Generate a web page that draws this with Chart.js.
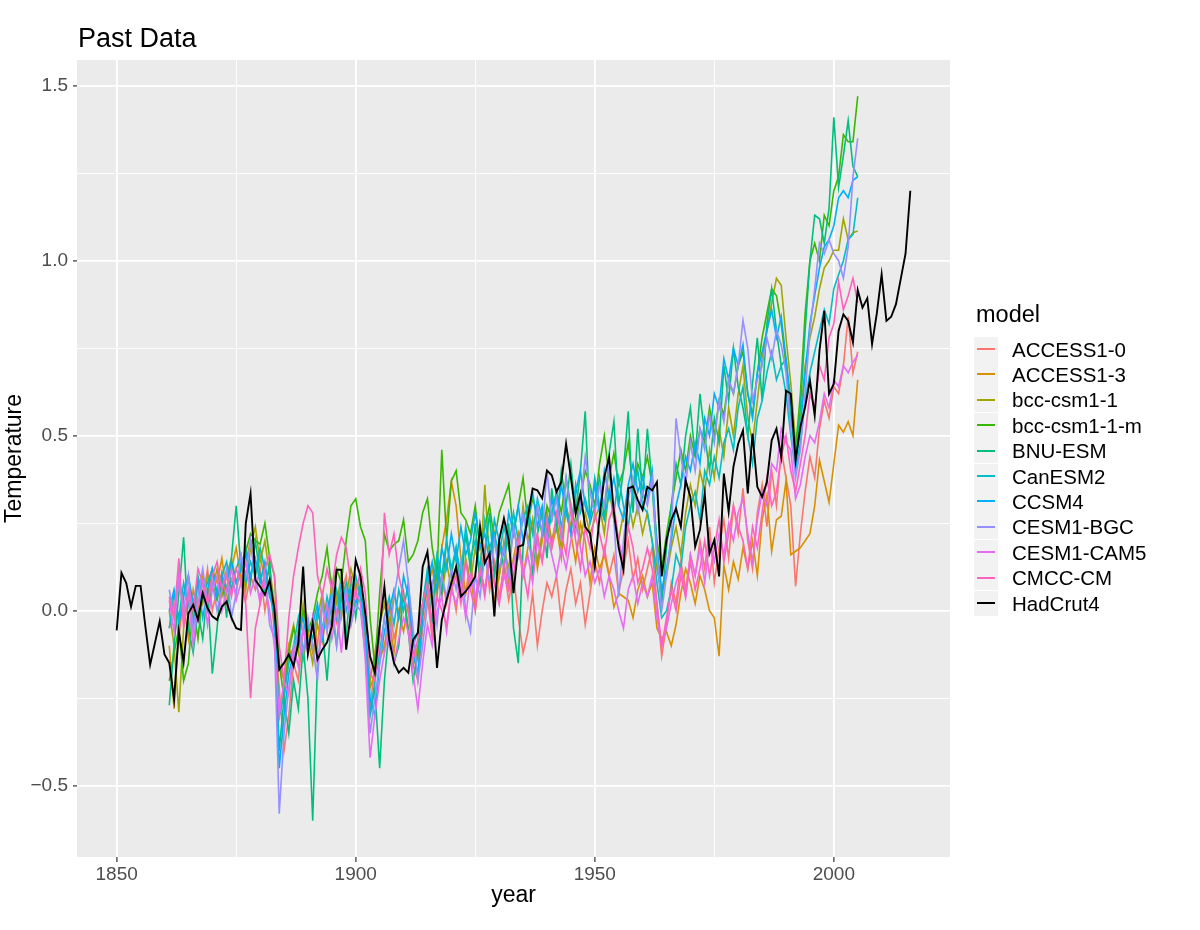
<!DOCTYPE html>
<html>
<head>
<meta charset="utf-8">
<title>Past Data</title>
<script src="https://cdn.jsdelivr.net/npm/chart.js@4.4.1/dist/chart.umd.min.js"></script>
<style>
  html, body { margin: 0; padding: 0; background: #ffffff; }
  #wrap { position: relative; width: 1200px; height: 930px; font-family: "Liberation Sans", Arial, sans-serif; }
  #chart { position: absolute; left: 0; top: 0; }
  #title { position: absolute; left: 78px; top: 25px; font-size: 27px; line-height: 27px; color: #000; white-space: nowrap; }
  #legendTitle { position: absolute; left: 976px; top: 303px; font-size: 23.5px; line-height: 23.5px; color: #000; }
  .key { position: absolute; left: 974px; width: 24px; height: 25px; background: #F2F2F2; }
  .key span { position: absolute; left: 3px; width: 18px; top: 11.5px; height: 2px; }
  .lab { position: absolute; left: 1012px; font-size: 20.5px; line-height: 20px; color: #000; white-space: nowrap; }
</style>
</head>
<body>
<div id="wrap">
  <canvas id="chart" width="1200" height="930"></canvas>
  <div id="title">Past Data</div>
  <div id="legendTitle">model</div>
  <div id="legend"></div>
</div>
<script>
// series names and colours (ggplot hue palette + black for observations)
const modelNames = ["ACCESS1-0", "ACCESS1-3", "bcc-csm1-1", "bcc-csm1-1-m", "BNU-ESM",
                    "CanESM2", "CCSM4", "CESM1-BGC", "CESM1-CAM5", "CMCC-CM"];
const modelColors = ["#F8766D", "#D89000", "#A3A500", "#39B600", "#00BF7D",
                     "#00BFC4", "#00B0F6", "#9590FF", "#E76BF3", "#FF62BC"];
const obsName = "HadCrut4";
const obsColor = "#000000";

// model runs cover 1861-2005, observations 1850-2016
const modelFirstYear = 1861;
const obsFirstYear = 1850;

const access10 = [
  -0.05, 0.02, -0.08, 0.05, 0.10, -0.02, 0.08, 0.03, 0.12, 0.00,
  0.06, 0.11, 0.02, 0.09, 0.05, 0.14, 0.03, 0.10, 0.06, 0.12,
  0.00, 0.08, -0.06, -0.22, -0.40, -0.30, -0.15, -0.20, -0.05, -0.12,
  -0.02, -0.10, 0.04, -0.06, 0.08, -0.03, 0.05, 0.10, -0.04, 0.03,
  0.06, -0.10, -0.28, -0.15, -0.05, -0.12, 0.02, -0.08, -0.02, 0.05,
  -0.06, -0.15, -0.20, -0.05, 0.04, -0.08, 0.06, 0.10, 0.02, 0.08,
  0.00, 0.12, 0.05, 0.15, 0.02, 0.10, 0.18, 0.06, 0.14, 0.04,
  0.12, 0.03, 0.10, -0.02, -0.12, -0.06, 0.05, -0.10, 0.00, 0.08,
  0.04, 0.10, -0.03, 0.06, 0.12, 0.02, 0.08, -0.04, 0.05, 0.14,
  0.08, 0.18, 0.10, 0.16, 0.05, 0.12, 0.20, 0.09, 0.15, 0.06,
  0.12, 0.18, 0.02, -0.13, -0.04, 0.08, 0.02, 0.14, 0.06, 0.16,
  0.10, 0.20, 0.12, 0.24, 0.08, 0.18, 0.26, 0.15, 0.30, 0.22,
  0.35, 0.20, 0.12, 0.28, 0.36, 0.24, 0.40, 0.30, 0.46, 0.38,
  0.30, 0.07, 0.22, 0.34, 0.44, 0.38, 0.52, 0.60, 0.55, 0.64,
  0.62, 0.70, 0.84, 0.68, 0.74
];
const access13 = [
  -0.10, -0.28, -0.05, 0.02, -0.08, 0.06, 0.00, 0.10, 0.04, 0.12,
  0.08, 0.15, 0.05, 0.12, 0.18, 0.09, 0.14, 0.20, 0.10, 0.16,
  0.08, 0.12, 0.02, -0.15, -0.20, -0.10, -0.16, -0.08, -0.14, -0.06,
  -0.12, -0.04, -0.09, 0.00, -0.05, 0.04, -0.02, 0.06, 0.02, 0.08,
  0.04, -0.05, -0.22, -0.18, -0.14, -0.10, -0.02, -0.12, 0.00, -0.06,
  0.02, -0.08, -0.14, 0.00, 0.06, 0.12, 0.04, 0.18, 0.26, 0.37,
  0.30, 0.15, 0.05, 0.10, 0.00, 0.12, 0.06, 0.16, 0.02, 0.10,
  0.20, 0.08, 0.15, 0.22, 0.10, 0.18, 0.26, 0.12, 0.20, 0.28,
  0.18, 0.24, 0.15, 0.30, 0.22, 0.14, 0.25, 0.20, 0.08, 0.18,
  0.12, 0.16, 0.10, 0.01, 0.05, 0.04, 0.03, -0.02, 0.06, 0.10,
  0.04, 0.08, -0.05, -0.08, -0.06, -0.10, -0.04, 0.05, 0.12, 0.08,
  0.02, 0.10, 0.06, 0.00, -0.02, -0.13, 0.13, 0.06, 0.14, 0.09,
  0.18, 0.12, 0.20, 0.10, 0.26, 0.33, 0.17, 0.26, 0.27, 0.37,
  0.16, 0.17, 0.18, 0.20, 0.22, 0.30, 0.43, 0.37, 0.31, 0.42,
  0.53, 0.51, 0.54, 0.50, 0.66
];
const bccCsm11 = [
  0.00, -0.10, -0.29, -0.05, 0.04, -0.02, 0.08, 0.02, 0.10, 0.06,
  0.12, 0.04, 0.10, 0.15, 0.08, 0.13, 0.06, 0.18, 0.24, 0.14,
  0.20, 0.10, 0.00, -0.30, -0.22, -0.10, -0.04, -0.12, 0.02, -0.08,
  -0.15, -0.02, 0.05, -0.04, 0.08, 0.02, 0.10, 0.04, 0.12, 0.06,
  0.10, -0.02, -0.20, -0.12, -0.04, 0.02, -0.06, 0.05, -0.02, 0.04,
  -0.05, -0.16, -0.10, 0.00, 0.08, 0.02, 0.10, 0.04, 0.14, 0.06,
  0.12, 0.04, 0.15, 0.08, 0.18, 0.10, 0.36, 0.14, 0.22, 0.10,
  0.18, 0.12, 0.24, 0.16, 0.30, 0.20, 0.26, 0.14, 0.22, 0.28,
  0.20, 0.26, 0.18, 0.30, 0.24, 0.32, 0.20, 0.28, 0.22, 0.26,
  0.30, 0.22, 0.35, 0.26, 0.20, 0.28, 0.32, 0.24, 0.30, 0.22,
  0.28, 0.20, 0.12, 0.05, 0.10, 0.18, 0.24, 0.16, 0.28, 0.36,
  0.30, 0.40, 0.34, 0.46, 0.38, 0.52, 0.44, 0.58, 0.50, 0.62,
  0.70, 0.55, 0.48, 0.60, 0.72, 0.80, 0.88, 0.95, 0.93, 0.78,
  0.65, 0.48, 0.55, 0.70, 0.78, 0.84, 0.92, 0.98, 1.00, 1.03,
  1.03, 1.12, 1.06, 1.08, 1.085
];
const bccCsm11m = [
  -0.20, -0.12, -0.05, -0.20, -0.15, 0.02, -0.08, 0.05, 0.00, 0.08,
  0.03, 0.10, 0.06, 0.14, 0.08, 0.12, 0.17, 0.22, 0.20, 0.19,
  0.25, 0.15, 0.10, -0.15, -0.25, -0.12, -0.05, -0.10, 0.00, -0.06,
  -0.02, 0.05, 0.10, 0.18, 0.06, 0.12, 0.08, 0.20, 0.30, 0.32,
  0.24, 0.20, -0.02, -0.16, 0.05, 0.22, 0.17, 0.19, 0.20, 0.26,
  0.14, 0.16, 0.20, 0.28, 0.32, 0.18, 0.10, 0.46, 0.20, 0.37,
  0.40, 0.28, 0.26, 0.22, 0.30, 0.18, 0.24, 0.30, 0.20, 0.28,
  0.32, 0.36, 0.22, 0.30, 0.38, 0.25, 0.32, 0.28, 0.22, 0.30,
  0.26, 0.34, 0.28, 0.38, 0.30, 0.24, 0.32, 0.40, 0.36, 0.30,
  0.42, 0.50, 0.38, 0.45, 0.36, 0.40, 0.48, 0.35, 0.42, 0.38,
  0.44, 0.36, 0.20, 0.12, 0.22, 0.30, 0.38, 0.46, 0.40, 0.50,
  0.44, 0.52, 0.48, 0.58, 0.50, 0.60, 0.56, 0.66, 0.62, 0.70,
  0.74, 0.62, 0.56, 0.68, 0.78, 0.85, 0.92, 0.90, 0.82, 0.70,
  0.60, 0.46, 0.62, 0.85, 1.00, 1.05, 1.00, 1.13, 1.10, 1.20,
  1.24, 1.36, 1.34, 1.34, 1.47
];
const bnuEsm = [
  -0.27, -0.10, 0.05, 0.21, -0.05, -0.12, 0.00, -0.08, 0.06, -0.18,
  -0.05, 0.10, -0.02, 0.15, 0.30, 0.12, 0.18, 0.08, 0.20, 0.10,
  0.05, 0.14, -0.05, -0.40, -0.25, -0.35, -0.20, -0.28, -0.10, -0.25,
  -0.60, -0.15, -0.05, -0.20, 0.00, -0.10, 0.05, -0.08, 0.10, -0.02,
  0.08, -0.05, -0.30, -0.22, -0.45, -0.20, -0.05, -0.15, -0.10, 0.05,
  -0.06, -0.20, -0.12, 0.02, 0.10, -0.05, 0.15, 0.05, 0.20, 0.10,
  0.18, 0.06, 0.22, 0.12, 0.25, 0.08, 0.16, 0.28, 0.10, 0.20,
  0.12, 0.25, -0.05, -0.15, 0.18, 0.30, 0.10, 0.22, 0.28, 0.15,
  0.35, 0.24, 0.40, 0.30, 0.42, 0.28, 0.40, 0.57, 0.25, 0.30,
  0.38, 0.26, 0.45, 0.54, 0.30, 0.40, 0.57, 0.28, 0.52, 0.32,
  0.52, 0.36, 0.15, 0.02, 0.18, 0.30, 0.42, 0.36, 0.50, 0.58,
  0.44, 0.62, 0.50, 0.40, 0.55, 0.48, 0.70, 0.60, 0.75, 0.64,
  0.58, 0.50, 0.65, 0.78, 0.60, 0.82, 0.92, 0.80, 0.70, 0.72,
  0.56, 0.42, 0.58, 0.80, 1.00, 1.13, 1.12, 1.05, 1.15, 1.41,
  1.21, 1.30, 1.40, 1.27, 1.24
];
const canEsm2 = [
  -0.05, 0.05, -0.02, 0.08, 0.02, -0.04, 0.10, 0.04, 0.08, 0.12,
  0.05, 0.10, 0.14, 0.06, 0.12, 0.16, 0.08, 0.14, 0.10, 0.18,
  0.12, 0.06, -0.02, -0.30, -0.24, -0.15, -0.10, -0.02, -0.12, -0.04,
  -0.08, 0.00, -0.06, 0.04, -0.02, 0.06, 0.00, 0.08, 0.03, 0.10,
  0.04, -0.06, -0.30, -0.20, -0.12, -0.02, 0.04, -0.04, 0.06, 0.00,
  0.08, -0.10, -0.06, 0.02, 0.12, 0.06, 0.16, 0.10, 0.20, 0.12,
  0.18, 0.10, 0.24, 0.15, 0.20, 0.12, 0.26, 0.18, 0.22, 0.16,
  0.24, 0.18, 0.28, 0.20, 0.26, 0.30, 0.22, 0.32, 0.26, 0.20,
  0.28, 0.34, 0.24, 0.30, 0.22, 0.36, 0.28, 0.32, 0.26, 0.38,
  0.30, 0.26, 0.34, 0.28, 0.38, 0.30, 0.24, 0.34, 0.40, 0.30,
  0.28, 0.20, 0.08, -0.02, 0.00, 0.06, 0.16, 0.12, 0.24, 0.30,
  0.34, 0.26, 0.40, 0.36, 0.44, 0.38, 0.48, 0.52, 0.46, 0.58,
  0.64, 0.50, 0.42, 0.55, 0.60, 0.68, 0.74, 0.66, 0.70, 0.62,
  0.50, 0.40, 0.48, 0.60, 0.68, 0.74, 0.80, 0.86, 0.82, 0.92,
  0.96, 1.00, 1.06, 1.075, 1.18
];
const ccsm4 = [
  0.00, 0.06, -0.04, 0.04, 0.10, 0.02, 0.08, -0.02, 0.06, 0.12,
  0.04, 0.10, 0.06, 0.14, 0.08, 0.12, 0.16, 0.10, 0.15, 0.08,
  0.14, 0.04, 0.00, -0.45, -0.30, -0.18, -0.12, -0.06, -0.02, -0.10,
  -0.04, 0.02, -0.08, 0.00, 0.05, -0.02, 0.08, 0.00, 0.06, 0.02,
  0.06, -0.04, -0.25, -0.30, -0.15, -0.06, 0.00, 0.06, -0.02, 0.10,
  0.04, -0.12, -0.18, -0.02, 0.08, 0.14, 0.06, 0.18, 0.12, 0.22,
  0.14, 0.24, 0.16, 0.20, 0.28, 0.18, 0.22, 0.14, 0.26, 0.20,
  0.16, 0.28, 0.22, 0.30, 0.20, 0.26, 0.34, 0.24, 0.30, 0.22,
  0.32, 0.26, 0.36, 0.28, 0.22, 0.34, 0.40, 0.30, 0.26, 0.36,
  0.28, 0.40, 0.32, 0.38, 0.30, 0.26, 0.36, 0.42, 0.34, 0.38,
  0.32, 0.40, 0.18, 0.06, 0.12, 0.20, 0.30, 0.36, 0.44, 0.40,
  0.48, 0.42, 0.55, 0.50, 0.62, 0.58, 0.72, 0.66, 0.75, 0.70,
  0.76, 0.62, 0.55, 0.68, 0.74, 0.80, 0.86, 0.78, 0.84, 0.72,
  0.60, 0.42, 0.52, 0.68, 0.82, 0.90, 0.98, 1.04, 1.06, 1.10,
  1.18, 1.20, 1.18, 1.23, 1.24
];
const cesm1Bgc = [
  0.06, -0.02, 0.08, 0.00, 0.10, -0.06, 0.04, 0.12, 0.02, 0.08,
  0.00, 0.06, 0.12, -0.02, 0.05, 0.16, 0.10, 0.20, 0.08, 0.04,
  0.10, -0.04, -0.08, -0.58, -0.35, -0.22, -0.14, -0.05, -0.12, -0.02,
  -0.10, -0.20, 0.02, -0.06, 0.04, -0.10, 0.00, 0.06, -0.04, 0.02,
  0.00, -0.12, -0.35, -0.25, -0.15, -0.02, -0.10, 0.04, 0.12, 0.20,
  0.08, -0.05, -0.20, -0.10, 0.02, 0.08, -0.04, 0.10, 0.04, 0.12,
  0.06, 0.14, 0.00, -0.06, 0.10, 0.04, 0.16, 0.08, 0.20, 0.12,
  0.18, 0.10, 0.24, 0.16, 0.28, 0.20, 0.14, 0.30, 0.22, 0.40,
  0.26, 0.32, 0.20, 0.38, 0.28, 0.22, 0.30, 0.44, 0.34, 0.28,
  0.36, 0.30, 0.42, 0.26, 0.04, 0.20, 0.32, 0.38, 0.28, 0.34,
  0.30, 0.38, 0.16, 0.00, 0.10, 0.22, 0.55, 0.44, 0.36, 0.48,
  0.40, 0.52, 0.46, 0.56, 0.48, 0.60, 0.54, 0.66, 0.62, 0.70,
  0.83, 0.75, 0.60, 0.66, 0.70, 0.78, 0.72, 0.80, 0.76, 0.68,
  0.52, 0.38, 0.46, 0.62, 0.80, 0.92, 1.05, 1.02, 1.06, 1.02,
  1.00, 0.95, 1.04, 1.24, 1.35
];
const cesm1Cam5 = [
  0.03, -0.06, 0.12, -0.02, 0.05, -0.10, 0.02, 0.08, -0.04, 0.06,
  0.10, 0.00, 0.06, 0.12, 0.03, 0.08, 0.14, 0.05, 0.10, 0.02,
  0.08, 0.00, -0.10, -0.30, -0.20, -0.24, -0.10, -0.16, -0.05, -0.12,
  -0.02, -0.15, -0.06, 0.02, -0.08, 0.00, -0.12, 0.04, -0.02, 0.06,
  0.02, -0.14, -0.42, -0.30, -0.20, -0.12, -0.05, -0.15, -0.08, -0.02,
  -0.06, -0.18, -0.28, -0.15, -0.04, -0.10, 0.00, 0.04, -0.06, 0.06,
  0.02, 0.08, -0.02, 0.10, 0.04, 0.12, 0.06, 0.14, 0.08, 0.02,
  0.10, 0.06, 0.14, 0.18, 0.10, 0.16, 0.08, 0.20, 0.14, 0.22,
  0.16, 0.10, 0.18, 0.12, 0.20, 0.26, 0.18, 0.10, 0.14, 0.08,
  0.12, 0.04, 0.10, 0.06, 0.00, -0.05, 0.06, 0.10, 0.02, 0.08,
  0.04, 0.10, -0.02, -0.10, -0.05, 0.02, 0.08, 0.12, 0.04, 0.16,
  0.10, 0.18, 0.08, 0.20, 0.14, 0.22, 0.16, 0.25, 0.20, 0.28,
  0.32, 0.22, 0.14, 0.26, 0.34, 0.30, 0.42, 0.40, 0.52, 0.48,
  0.46, 0.32, 0.36, 0.44, 0.50, 0.48, 0.54, 0.62, 0.58, 0.66,
  0.64, 0.70, 0.68, 0.71, 0.73
];
const cmccCm = [
  0.04, -0.02, 0.15, -0.05, 0.06, 0.00, 0.12, 0.08, 0.02, 0.10,
  0.14, 0.06, 0.10, 0.04, 0.12, 0.08, 0.02, -0.25, -0.05, 0.02,
  0.12, 0.16, 0.10, -0.10, -0.20, -0.02, 0.10, 0.18, 0.25, 0.30,
  0.28, 0.10, 0.04, 0.12, 0.06, 0.16, 0.21, 0.18, 0.08, 0.04,
  0.12, 0.05, -0.18, -0.20, -0.08, 0.28, 0.16, 0.22, 0.10, 0.04,
  0.00, -0.14, -0.08, 0.02, 0.08, -0.06, 0.04, 0.00, -0.04, 0.06,
  0.10, 0.02, 0.14, 0.06, 0.00, 0.12, 0.04, 0.16, 0.08, 0.02,
  0.14, 0.06, 0.10, 0.20, 0.12, 0.04, 0.16, 0.22, 0.14, 0.26,
  0.18, 0.28, 0.22, 0.16, 0.30, 0.20, 0.12, 0.24, 0.18, 0.28,
  0.22, 0.16, 0.26, 0.30, 0.20, 0.14, 0.24, 0.18, 0.08, 0.12,
  0.18, 0.12, 0.02, -0.10, -0.02, 0.06, 0.00, 0.10, 0.04, 0.14,
  0.06, 0.12, 0.20, 0.10, 0.18, 0.26, 0.14, 0.22, 0.30, 0.24,
  0.20, 0.12, 0.24, 0.18, 0.28, 0.38, 0.30, 0.34, 0.44, 0.50,
  0.40, 0.34, 0.42, 0.50, 0.62, 0.58, 0.70, 0.66, 0.78, 0.82,
  0.94, 0.86, 0.90, 0.95, 0.88
];
const hadCrut4 = [
  -0.056, 0.108, 0.079, 0.012, 0.071, 0.071, -0.045, -0.154, -0.092, -0.030,
  -0.125, -0.149, -0.253, -0.059, -0.147, -0.007, 0.017, -0.026, 0.050, 0.008,
  -0.016, -0.026, 0.012, 0.026, -0.020, -0.050, -0.055, 0.250, 0.335, 0.088,
  0.069, 0.046, 0.088, 0.003, -0.168, -0.149, -0.125, -0.158, -0.092, 0.126,
  -0.121, -0.035, -0.139, -0.111, -0.090, -0.045, 0.117, 0.117, -0.111, -0.007,
  0.145, 0.098, -0.007, -0.130, -0.177, -0.045, 0.069, -0.083, -0.149, -0.177,
  -0.163, -0.177, -0.083, -0.063, 0.126, 0.169, 0.031, -0.163, -0.026, 0.031,
  0.079, 0.126, 0.041, 0.055, 0.074, 0.098, 0.240, 0.136, 0.164, -0.016,
  0.202, 0.264, 0.202, 0.050, 0.183, 0.188, 0.268, 0.349, 0.344, 0.321,
  0.401, 0.387, 0.340, 0.368, 0.477, 0.382, 0.278, 0.335, 0.240, 0.221,
  0.126, 0.268, 0.382, 0.439, 0.280, 0.180, 0.117, 0.350, 0.355, 0.316,
  0.288, 0.354, 0.344, 0.368, 0.098, 0.202, 0.259, 0.292, 0.240, 0.373,
  0.325, 0.183, 0.231, 0.335, 0.164, 0.202, 0.098, 0.392, 0.283, 0.411,
  0.477, 0.515, 0.335, 0.506, 0.354, 0.325, 0.368, 0.487, 0.520, 0.439,
  0.629, 0.620, 0.430, 0.525, 0.582, 0.658, 0.558, 0.743, 0.857, 0.620,
  0.648, 0.800, 0.847, 0.828, 0.767, 0.916, 0.866, 0.893, 0.762, 0.850,
  0.961, 0.828, 0.840, 0.876, 0.948, 1.020, 1.200
];

const modelSeries = [access10, access13, bccCsm11, bccCsm11m, bnuEsm,
                     canEsm2, ccsm4, cesm1Bgc, cesm1Cam5, cmccCm];

// axis ticks
const xMajorTicks = [1850, 1900, 1950, 2000];
const xMinorTicks = [1875, 1925, 1975];
const yMajorTicks = [-0.5, 0, 0.5, 1, 1.5];
const yMinorTicks = [-0.25, 0.25, 0.75, 1.25];

function toPoints(values, firstYear) {
  return values.map((v, i) => ({ x: firstYear + i, y: v }));
}

const datasets = modelSeries.map((vals, i) => ({
  label: modelNames[i],
  data: toPoints(vals, modelFirstYear),
  borderColor: modelColors[i],
  borderWidth: 1.6,
  order: modelSeries.length + 1 - i   // first model at the bottom, like ggplot
}));
datasets.push({
  label: obsName,
  data: toPoints(hadCrut4, obsFirstYear),
  borderColor: obsColor,
  borderWidth: 1.9,
  order: 0
});

// grey panel behind the lines
const panelBg = {
  id: "panelBg",
  beforeDraw(chart) {
    const { ctx, chartArea: a } = chart;
    ctx.save();
    ctx.fillStyle = "#EBEBEB";
    ctx.fillRect(a.left, a.top, a.right - a.left, a.bottom - a.top);
    ctx.restore();
  }
};

const fontFamily = '"Liberation Sans", Arial, sans-serif';
Chart.defaults.font.family = fontFamily;

function isMajor(list, v) {
  return list.some(t => Math.abs(t - v) < 1e-9);
}
function fmtY(v) {
  const s = Math.abs(v).toFixed(1);
  return v < 0 ? "\u2212" + s : s;
}

new Chart(document.getElementById("chart").getContext("2d"), {
  type: "line",
  data: { datasets: datasets },
  plugins: [panelBg],
  options: {
    responsive: false,
    animation: false,
    events: [],
    layout: { padding: { left: 0, top: 60, right: 250, bottom: 0 } },
    elements: {
      point: { radius: 0 },
      line: { tension: 0, fill: false }
    },
    plugins: {
      legend: { display: false },
      tooltip: { enabled: false },
      title: { display: false }
    },
    scales: {
      x: {
        type: "linear",
        min: 1841.7,
        max: 2024.3,
        afterBuildTicks: s => {
          s.ticks = xMajorTicks.concat(xMinorTicks).sort((a, b) => a - b).map(v => ({ value: v }));
        },
        afterFit: s => { s.height = 73; },
        border: { display: false },
        grid: {
          color: "#FFFFFF",
          lineWidth: c => isMajor(xMajorTicks, c.tick.value) ? 1.8 : 0.9,
          tickColor: c => isMajor(xMajorTicks, c.tick.value) ? "#333333" : "rgba(0,0,0,0)",
          tickWidth: 1.2,
          tickLength: 5
        },
        ticks: {
          autoSkip: false,
          maxRotation: 0,
          padding: 1,
          color: "#4D4D4D",
          font: { size: 19 },
          callback: v => isMajor(xMajorTicks, v) ? String(v) : ""
        },
        title: {
          display: true,
          text: "year",
          color: "#000000",
          font: { size: 23 },
          padding: { top: 0, bottom: 21 }
        }
      },
      y: {
        type: "linear",
        min: -0.7035,
        max: 1.5735,
        afterBuildTicks: s => {
          s.ticks = yMajorTicks.concat(yMinorTicks).sort((a, b) => a - b).map(v => ({ value: v }));
        },
        afterFit: s => { s.width = 77; },
        border: { display: false },
        grid: {
          color: "#FFFFFF",
          lineWidth: c => isMajor(yMajorTicks, c.tick.value) ? 1.8 : 0.9,
          tickColor: c => isMajor(yMajorTicks, c.tick.value) ? "#333333" : "rgba(0,0,0,0)",
          tickWidth: 1.2,
          tickLength: 4
        },
        ticks: {
          autoSkip: false,
          padding: 5,
          color: "#4D4D4D",
          font: { size: 19 },
          callback: v => isMajor(yMajorTicks, v) ? fmtY(v) : ""
        },
        title: {
          display: true,
          text: "Temperature",
          color: "#000000",
          font: { size: 23 },
          padding: { top: 1, bottom: 0 }
        }
      }
    }
  }
});

// legend in the ggplot style: grey key boxes with a short coloured line
const legendNames = modelNames.concat([obsName]);
const legendColors = modelColors.concat([obsColor]);
const legendBox = document.getElementById("legend");
legendNames.forEach((name, i) => {
  const top = 336.5 + i * 25.4;
  const key = document.createElement("div");
  key.className = "key";
  key.style.top = top + "px";
  const line = document.createElement("span");
  line.style.background = legendColors[i];
  key.appendChild(line);
  legendBox.appendChild(key);

  const lab = document.createElement("div");
  lab.className = "lab";
  lab.style.top = (top + 3) + "px";
  lab.textContent = name;
  legendBox.appendChild(lab);
});
</script>
</body>
</html>
